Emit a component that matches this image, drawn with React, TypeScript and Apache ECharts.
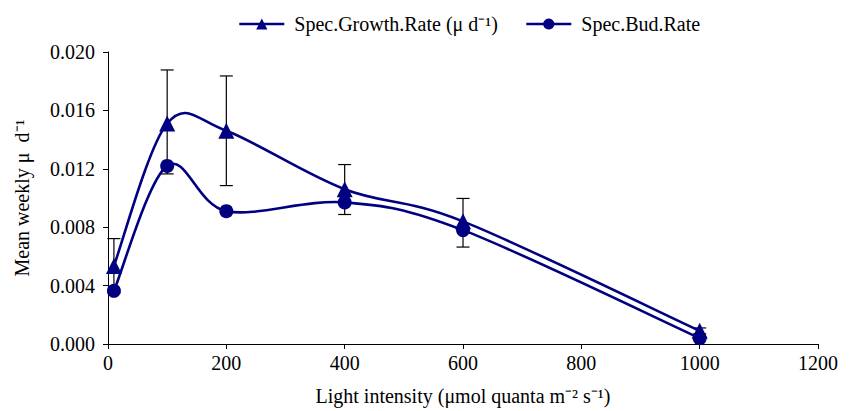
import React, { useEffect, useRef } from "react";
import * as echarts from "echarts";

const lightIntensity = [10, 100, 200, 400, 600, 1000];
const growthRate = [0.00535, 0.0151, 0.0146, 0.0106, 0.0084, 0.0009];
const budRate = [0.00364, 0.0122, 0.0091, 0.0097, 0.0078, 0.0004];
const growthErrLow = [0.00348, 0.01165, 0.01085, 0.00887, 0.00664, 0.0007];
const growthErrHigh = [0.00722, 0.01877, 0.01836, 0.01229, 0.00997, 0.0011];
const yTicks = [0, 0.004, 0.008, 0.012, 0.016, 0.02];

const NAVY = "#000080";
const FONT = "Liberation Serif";
const GROWTH = "Spec.Growth.Rate (μ d⁻¹)";
const BUD = "Spec.Bud.Rate";

function curveSeries(name: string, values: number[]) {
  return {
    type: "custom",
    name: name + "-curve",
    z: 2,
    silent: true,
    data: lightIntensity.map((x, i) => [x, values[i]]),
    encode: { x: 0, y: 1 },
    renderItem: (params: any, api: any) => {
      const i = params.dataIndex;
      const n = lightIntensity.length;
      if (i >= n - 1) return { type: "group", children: [] };
      const pt = (j: number) => {
        const k = Math.max(0, Math.min(n - 1, j));
        return api.coord([lightIntensity[k], values[k]]);
      };
      const p0 = pt(i - 1);
      const p1 = pt(i);
      const p2 = pt(i + 1);
      const p3 = pt(i + 2);
      const t = 1 / 6;
      return {
        type: "bezierCurve",
        shape: {
          x1: p1[0],
          y1: p1[1],
          cpx1: p1[0] + (p2[0] - p0[0]) * t,
          cpy1: p1[1] + (p2[1] - p0[1]) * t,
          cpx2: p2[0] - (p3[0] - p1[0]) * t,
          cpy2: p2[1] - (p3[1] - p1[1]) * t,
          x2: p2[0],
          y2: p2[1],
        },
        style: { stroke: NAVY, lineWidth: 2.6, fill: "none" },
      };
    },
  };
}

export default function App() {
  const ref = useRef<HTMLDivElement>(null);
  useEffect(() => {
    document.body.style.margin = "0";
    if (!ref.current) return;
    const chart = echarts.init(ref.current, null, { renderer: "svg" });
    const errData = lightIntensity.map((x, i) => [x, growthErrLow[i], growthErrHigh[i]]);
    chart.setOption({
      animation: false,
      textStyle: { fontFamily: FONT, color: "#000" },
      legend: {
        top: 9,
        left: 233,
        itemWidth: 45,
        itemHeight: 14,
        itemGap: 27,
        textStyle: { fontFamily: FONT, fontSize: 20, color: "#000", padding: [0, 0, 0, 5] },
        lineStyle: { color: NAVY, width: 2.6, opacity: 1 },
        data: [GROWTH, BUD],
      },
      grid: { left: 108, right: 31, top: 52, bottom: 66 },
      xAxis: {
        type: "value",
        min: 0,
        max: 1200,
        interval: 200,
        name: "Light intensity (μmol quanta m⁻² s⁻¹)",
        nameLocation: "middle",
        nameGap: 42,
        nameTextStyle: { fontFamily: FONT, fontSize: 20, color: "#000" },
        axisLine: { lineStyle: { color: "#000", width: 1 } },
        axisTick: { show: true, length: 5, lineStyle: { color: "#000" } },
        axisLabel: {
          margin: 9,
          fontFamily: FONT,
          fontSize: 20,
          color: "#000",
          formatter: (v: number) => String(v),
        },
        splitLine: { show: false },
      },
      yAxis: {
        type: "value",
        min: yTicks[0],
        max: yTicks[yTicks.length - 1],
        interval: 0.004,
        name: "Mean weekly μ  d⁻¹",
        nameLocation: "middle",
        nameGap: 76,
        nameTextStyle: { fontFamily: FONT, fontSize: 20, color: "#000" },
        axisLine: { show: true, lineStyle: { color: "#000", width: 1 } },
        axisTick: { show: true, length: 5, lineStyle: { color: "#000" } },
        axisLabel: {
          margin: 13,
          fontFamily: FONT,
          fontSize: 20,
          color: "#000",
          formatter: (v: number) => v.toFixed(3),
        },
        splitLine: { show: false },
      },
      series: [
        {
          type: "custom",
          name: "err",
          z: 1,
          silent: true,
          data: errData,
          encode: { x: 0, y: [1, 2] },
          renderItem: (params: any, api: any) => {
            const x = api.value(0);
            const lo = api.coord([x, api.value(1)]);
            const hi = api.coord([x, api.value(2)]);
            const w = 6.5;
            const style = { stroke: "#000", lineWidth: 1.2 };
            return {
              type: "group",
              children: [
                { type: "line", shape: { x1: lo[0], y1: lo[1], x2: hi[0], y2: hi[1] }, style },
                { type: "line", shape: { x1: hi[0] - w, y1: hi[1], x2: hi[0] + w, y2: hi[1] }, style },
                { type: "line", shape: { x1: lo[0] - w, y1: lo[1], x2: lo[0] + w, y2: lo[1] }, style },
              ],
            };
          },
        },
        curveSeries(GROWTH, growthRate),
        curveSeries(BUD, budRate),
        {
          type: "line",
          name: GROWTH,
          z: 3,
          data: lightIntensity.map((x, i) => [x, growthRate[i]]),
          symbol: "triangle",
          symbolSize: 16,
          lineStyle: { color: NAVY, width: 2.6, opacity: 0 },
          itemStyle: { color: NAVY },
        },
        {
          type: "line",
          name: BUD,
          z: 3,
          data: lightIntensity.map((x, i) => [x, budRate[i]]),
          symbol: "circle",
          symbolSize: 14,
          lineStyle: { color: NAVY, width: 2.6, opacity: 0 },
          itemStyle: { color: NAVY },
        },
      ],
    });
    return () => chart.dispose();
  }, []);
  return <div ref={ref} style={{ width: 849, height: 411 }} />;
}
